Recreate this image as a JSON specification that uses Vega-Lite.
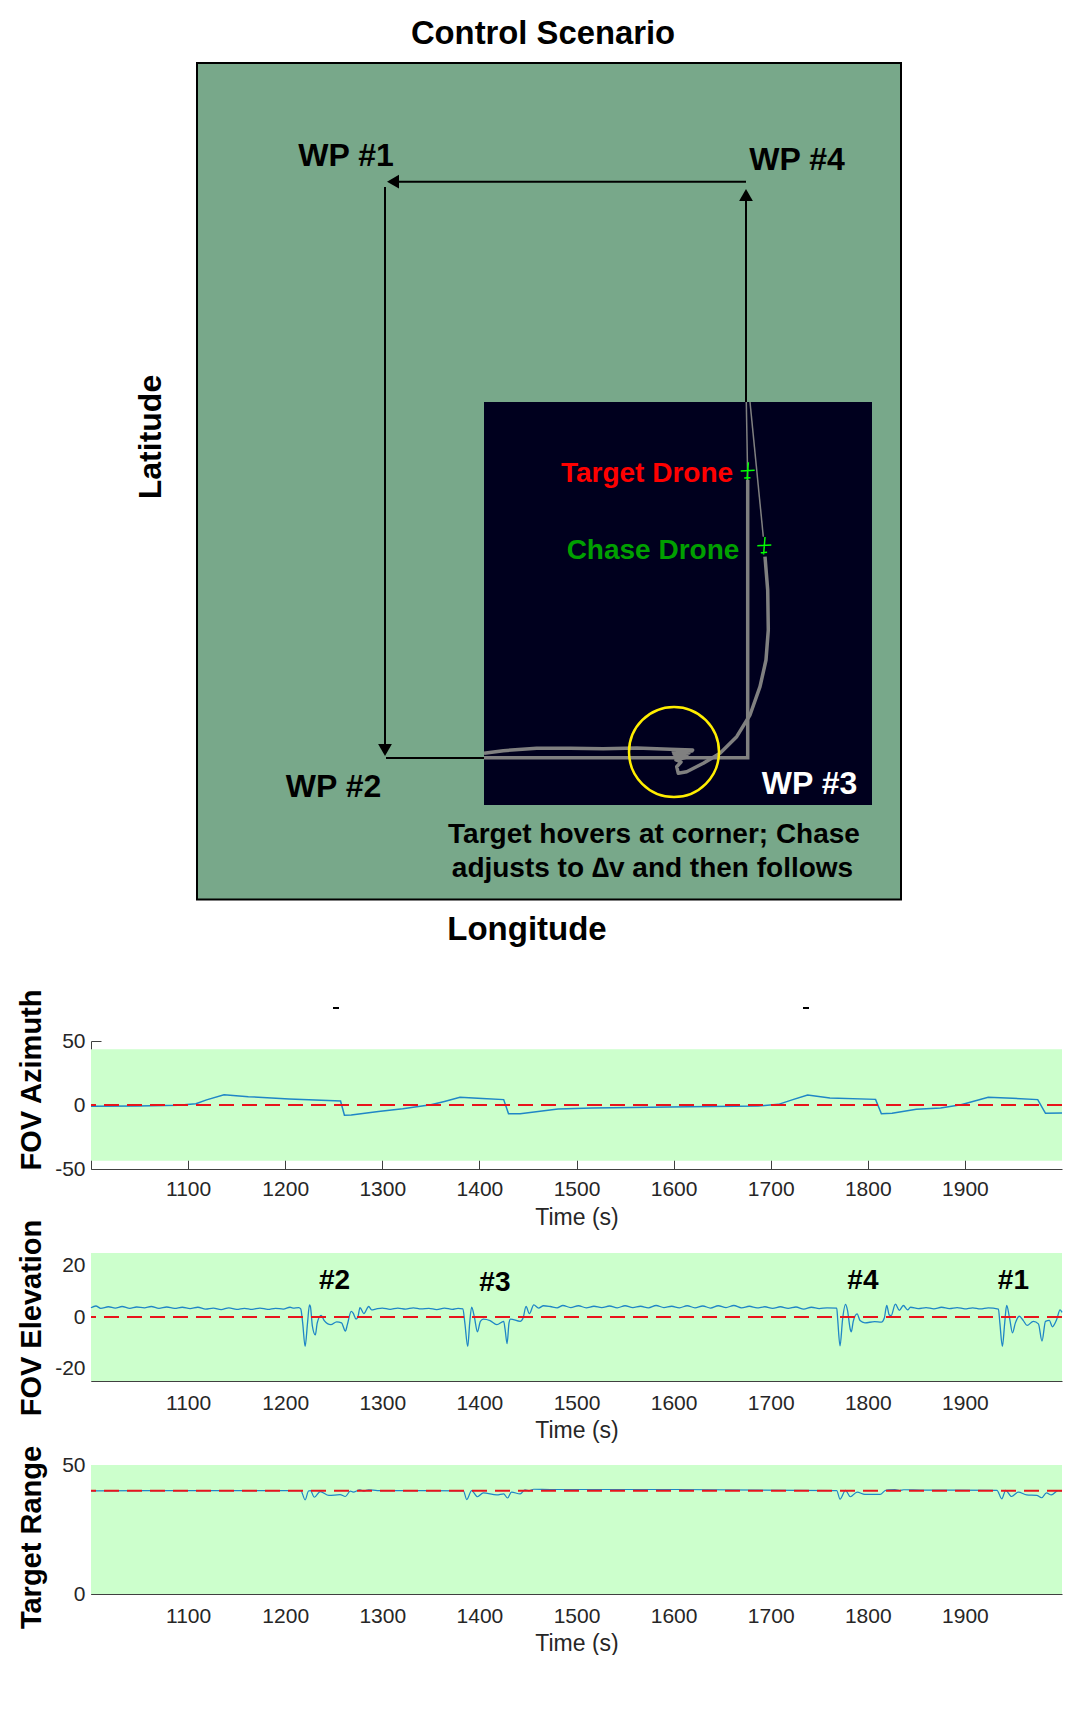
{
"$schema":"https://vega.github.io/schema/vega-lite/v6.json",
"background":"white",
"padding":{"left":16,"top":0,"right":0,"bottom":0},
"bounds":"flush",
"spacing":84,
"config":{"view":{"stroke":null},"font":"Liberation Sans",
"axisX":{"grid":false,"titleFontSize":23,"titleFontWeight":"normal","titleColor":"#262626","titleBaseline":"middle","labelFontSize":21,"labelColor":"#262626","labelFlush":false,"labelOverlap":false,"domainColor":"#404040","tickColor":"#404040"},
"axisY":{"grid":false,"titleFontSize":29,"titleFontWeight":"bold","titleColor":"#000000","titleX":-60,"titleBaseline":"middle","titleAngle":-90,"labelFontSize":21,"labelColor":"#262626","labelPadding":16,"domainColor":"#404040","tickColor":"#404040","tickSize":-10,"labelExpr":"'' + datum.value"}},
"datasets":{
"azimuth":[{"t":1000,"v":-1},{"t":1048,"v":-0.8},{"t":1090,"v":-0.2},{"t":1108,"v":1},{"t":1119,"v":4},{"t":1137,"v":8},{"t":1162,"v":6.5},{"t":1204,"v":4.7},{"t":1257,"v":3.1},{"t":1261,"v":-8},{"t":1268,"v":-7.8},{"t":1296,"v":-5},{"t":1321,"v":-3},{"t":1350,"v":0.2},{"t":1364,"v":2.8},{"t":1380,"v":6},{"t":1403,"v":5},{"t":1425,"v":4.2},{"t":1430,"v":-6.8},{"t":1442,"v":-6.8},{"t":1481,"v":-3.2},{"t":1516,"v":-2.3},{"t":1616,"v":-1.3},{"t":1687,"v":-0.8},{"t":1708,"v":0.5},{"t":1722,"v":4},{"t":1738,"v":7.8},{"t":1761,"v":5.5},{"t":1808,"v":4.4},{"t":1814,"v":-6.8},{"t":1825,"v":-6.5},{"t":1850,"v":-3.4},{"t":1875,"v":-2.3},{"t":1896,"v":0.2},{"t":1924,"v":6},{"t":1949,"v":5.2},{"t":1975,"v":4.2},{"t":1983,"v":-6.5},{"t":2000,"v":-6.3}],
"elevation":[{"t":1000,"v":3.6},{"t":1005,"v":4.3},{"t":1010,"v":3.4},{"t":1018,"v":4},{"t":1025,"v":3.5},{"t":1032,"v":4.1},{"t":1040,"v":3.4},{"t":1047,"v":3.9},{"t":1055,"v":3.6},{"t":1062,"v":4.1},{"t":1070,"v":3.4},{"t":1078,"v":3.9},{"t":1086,"v":3.4},{"t":1094,"v":3.8},{"t":1102,"v":3.3},{"t":1110,"v":3.8},{"t":1118,"v":3.1},{"t":1126,"v":3.5},{"t":1134,"v":2.9},{"t":1142,"v":3.6},{"t":1150,"v":3},{"t":1158,"v":3.4},{"t":1166,"v":3},{"t":1174,"v":3.5},{"t":1182,"v":3},{"t":1190,"v":3.4},{"t":1198,"v":3.1},{"t":1205,"v":3.8},{"t":1208,"v":3.5},{"t":1214,"v":3.7},{"t":1216,"v":3.2},{"t":1218,"v":-2.3},{"t":1220.5,"v":-11.5},{"t":1223,"v":-2.3},{"t":1225,"v":4.7},{"t":1226,"v":4},{"t":1228,"v":-3.6},{"t":1231,"v":-7},{"t":1233,"v":-2.3},{"t":1237,"v":0.6},{"t":1240,"v":-1.3},{"t":1247,"v":-3},{"t":1253,"v":-1.9},{"t":1258,"v":-2.3},{"t":1262,"v":-5.5},{"t":1264,"v":-3},{"t":1268,"v":2.2},{"t":1270,"v":1.5},{"t":1273,"v":-0.8},{"t":1275,"v":0.2},{"t":1277,"v":3.7},{"t":1281,"v":1.3},{"t":1286,"v":4.1},{"t":1289,"v":2.8},{"t":1294,"v":3.2},{"t":1300,"v":3.5},{"t":1308,"v":3},{"t":1316,"v":3.5},{"t":1324,"v":3.1},{"t":1332,"v":3.6},{"t":1340,"v":3.2},{"t":1348,"v":3.4},{"t":1356,"v":2.9},{"t":1364,"v":3.5},{"t":1372,"v":3},{"t":1378,"v":3.4},{"t":1383,"v":3.2},{"t":1385,"v":-2.3},{"t":1388,"v":-11.5},{"t":1390,"v":-2.3},{"t":1392,"v":3.8},{"t":1395,"v":-0.4},{"t":1398,"v":-5.8},{"t":1401,"v":-1.7},{"t":1404,"v":-0.8},{"t":1411,"v":-1.4},{"t":1418,"v":-3},{"t":1425,"v":-1.7},{"t":1426.5,"v":-4.9},{"t":1428.5,"v":-10.4},{"t":1430.5,"v":-2.3},{"t":1432,"v":-0.8},{"t":1442,"v":-1.7},{"t":1445,"v":-0.4},{"t":1448,"v":4.1},{"t":1451.5,"v":1.3},{"t":1456,"v":4.7},{"t":1461,"v":3.5},{"t":1466,"v":4.4},{"t":1473,"v":4.1},{"t":1480,"v":3.6},{"t":1486,"v":4.5},{"t":1494,"v":3.7},{"t":1502,"v":4.4},{"t":1510,"v":3.6},{"t":1518,"v":4.2},{"t":1526,"v":3.7},{"t":1534,"v":4.3},{"t":1542,"v":3.6},{"t":1550,"v":4.4},{"t":1558,"v":3.7},{"t":1566,"v":4.2},{"t":1574,"v":3.6},{"t":1582,"v":4.5},{"t":1590,"v":3.7},{"t":1598,"v":4.2},{"t":1606,"v":3.6},{"t":1614,"v":4.4},{"t":1622,"v":3.6},{"t":1630,"v":4.3},{"t":1638,"v":3.5},{"t":1646,"v":4.4},{"t":1654,"v":3.7},{"t":1662,"v":4.5},{"t":1670,"v":3.6},{"t":1678,"v":4.2},{"t":1686,"v":3.6},{"t":1694,"v":4},{"t":1702,"v":3.4},{"t":1710,"v":4},{"t":1718,"v":3.4},{"t":1726,"v":3.9},{"t":1734,"v":3.1},{"t":1742,"v":3.8},{"t":1750,"v":3.3},{"t":1758,"v":3.6},{"t":1768,"v":3.5},{"t":1769,"v":-1},{"t":1771.4,"v":-11.3},{"t":1774,"v":-1},{"t":1777,"v":4.9},{"t":1779,"v":2.8},{"t":1782,"v":-4.9},{"t":1783,"v":-5.8},{"t":1785,"v":-1.7},{"t":1789,"v":1.2},{"t":1792,"v":-1.4},{"t":1797,"v":-2.3},{"t":1807,"v":-1.8},{"t":1814,"v":-2},{"t":1817,"v":-0.4},{"t":1819.5,"v":4.5},{"t":1822,"v":0.9},{"t":1824,"v":0.5},{"t":1828.4,"v":5},{"t":1832.5,"v":2.6},{"t":1836.6,"v":4.5},{"t":1841,"v":2.8},{"t":1844,"v":3.8},{"t":1852,"v":3.3},{"t":1860,"v":3.7},{"t":1868,"v":3.2},{"t":1876,"v":3.8},{"t":1884,"v":3.3},{"t":1892,"v":3.7},{"t":1900,"v":3.2},{"t":1908,"v":3.6},{"t":1916,"v":3.2},{"t":1924,"v":3.6},{"t":1934.5,"v":3.1},{"t":1936,"v":-2.3},{"t":1938.6,"v":-11.5},{"t":1941,"v":-2.3},{"t":1943,"v":4.5},{"t":1946,"v":-0.4},{"t":1949,"v":-6.2},{"t":1952,"v":-2.3},{"t":1956,"v":0.3},{"t":1960,"v":-1.3},{"t":1964,"v":-3.3},{"t":1970.5,"v":-1.7},{"t":1975.7,"v":-2.7},{"t":1979.4,"v":-9.4},{"t":1983,"v":-1.7},{"t":1987,"v":-1.3},{"t":1990,"v":-3.8},{"t":1994.5,"v":-1},{"t":1998,"v":2.8},{"t":2000,"v":1.8}],
"range":[{"t":1000,"v":40},{"t":1100,"v":40.1},{"t":1216,"v":40.1},{"t":1220.5,"v":36.5},{"t":1224,"v":39.9},{"t":1226,"v":40.1},{"t":1230,"v":37.5},{"t":1236,"v":39.7},{"t":1245,"v":38.2},{"t":1256.5,"v":38.5},{"t":1262,"v":37.8},{"t":1267,"v":39.9},{"t":1270,"v":39.5},{"t":1277,"v":40.4},{"t":1281,"v":39.9},{"t":1286,"v":40.4},{"t":1295,"v":40.1},{"t":1383.5,"v":40},{"t":1387,"v":36.6},{"t":1392,"v":40.1},{"t":1398,"v":37.7},{"t":1404,"v":39.2},{"t":1418,"v":38.4},{"t":1425,"v":38.8},{"t":1429,"v":37.2},{"t":1433,"v":39.5},{"t":1442,"v":38.8},{"t":1447,"v":40.4},{"t":1451,"v":40},{"t":1456,"v":40.6},{"t":1473,"v":40.5},{"t":1600,"v":40.5},{"t":1768,"v":40.1},{"t":1771.4,"v":36.8},{"t":1777,"v":40.2},{"t":1782,"v":37.7},{"t":1789,"v":39.5},{"t":1797,"v":38.6},{"t":1812.6,"v":38.6},{"t":1818,"v":40.1},{"t":1821,"v":40.4},{"t":1828,"v":40.5},{"t":1833,"v":40.1},{"t":1837,"v":40.4},{"t":1854,"v":40.3},{"t":1933,"v":40.2},{"t":1938,"v":36.9},{"t":1942,"v":40.2},{"t":1948,"v":37.8},{"t":1955,"v":39.5},{"t":1963.6,"v":38.4},{"t":1974,"v":38.2},{"t":1979,"v":37.3},{"t":1984,"v":39.2},{"t":1989,"v":38.4},{"t":1996,"v":40.1},{"t":2000,"v":40}]
},
"vconcat":[
{"width":971,"height":957,
"encoding":{"x":{"field":"lon","type":"quantitative","axis":null,"scale":{"domain":[0,971],"nice":false,"zero":false}},"y":{"field":"lat","type":"quantitative","axis":null,"scale":{"domain":[0,957],"reverse":true,"nice":false,"zero":false}}},
"layer":[
{"data":{"values":[{"lon":106,"lon2":810,"lat":63,"lat2":899.5}]},"mark":{"type":"rect","fill":"#78A88A","stroke":"#000000","strokeWidth":2},"encoding":{"x2":{"field":"lon2"},"y2":{"field":"lat2"}}},
{"data":{"values":[{"lon":393,"lon2":781,"lat":402,"lat2":805}]},"mark":{"type":"rect","fill":"#00001E"},"encoding":{"x2":{"field":"lon2"},"y2":{"field":"lat2"}}},
{"data":{"values":[{"lon":655,"lon2":300,"lat":181.7,"lat2":181.7},{"lon":294,"lon2":294,"lat":187,"lat2":745},{"lon":295,"lon2":393,"lat":758,"lat2":758},{"lon":655,"lon2":655,"lat":402,"lat2":198},{"lon":242,"lon2":248,"lat":1008,"lat2":1008},{"lon":712,"lon2":718,"lat":1008,"lat2":1008}]},"mark":{"type":"rule","color":"#000000","strokeWidth":2},"encoding":{"x2":{"field":"lon2"},"y2":{"field":"lat2"}}},
{"data":{"values":[{"lon":302,"lat":181.7}]},"mark":{"type":"point","shape":"triangle-left","filled":true,"color":"#000000","opacity":1,"size":190}},
{"data":{"values":[{"lon":655,"lat":195}]},"mark":{"type":"point","shape":"triangle-up","filled":true,"color":"#000000","opacity":1,"size":190}},
{"data":{"values":[{"lon":294,"lat":750}]},"mark":{"type":"point","shape":"triangle-down","filled":true,"color":"#000000","opacity":1,"size":190}},
{"data":{"values":[{"i":1,"lon":655.3,"lat":402},{"i":2,"lon":656,"lat":440},{"i":3,"lon":656.7,"lat":480}]},"mark":{"type":"line","color":"#808080","strokeWidth":1.5},"encoding":{"order":{"field":"i"}}},
{"data":{"values":[{"i":1,"lon":656.7,"lat":480},{"i":2,"lon":656.7,"lat":757.7},{"i":3,"lon":393,"lat":757.7}]},"mark":{"type":"line","color":"#808080","strokeWidth":3.5},"encoding":{"order":{"field":"i"}}},
{"data":{"values":[{"i":1,"lon":659,"lat":402},{"i":2,"lon":672.3,"lat":536.7}]},"mark":{"type":"line","color":"#808080","strokeWidth":1.5},"encoding":{"order":{"field":"i"}}},
{"data":{"values":[{"i":1,"lon":674,"lat":556.7},{"i":2,"lon":676.7,"lat":590},{"i":3,"lon":677.3,"lat":630},{"i":4,"lon":675,"lat":660},{"i":5,"lon":669,"lat":686.7},{"i":6,"lon":659,"lat":715},{"i":7,"lon":645.7,"lat":736.7},{"i":8,"lon":629,"lat":753.3},{"i":9,"lon":612.3,"lat":763.3},{"i":10,"lon":595.7,"lat":771.7},{"i":11,"lon":587.3,"lat":773.3},{"i":12,"lon":585.7,"lat":766.7},{"i":13,"lon":590,"lat":762},{"i":14,"lon":585,"lat":760},{"i":15,"lon":595.7,"lat":757},{"i":16,"lon":584,"lat":756},{"i":17,"lon":596,"lat":755},{"i":18,"lon":583,"lat":754},{"i":19,"lon":598,"lat":753},{"i":20,"lon":582.3,"lat":752},{"i":21,"lon":601,"lat":751},{"i":22,"lon":582,"lat":750.7},{"i":23,"lon":601.7,"lat":750},{"i":24,"lon":579,"lat":749.3},{"i":25,"lon":545.7,"lat":748},{"i":26,"lon":512.3,"lat":748.7},{"i":27,"lon":479,"lat":748.3},{"i":28,"lon":445.7,"lat":748.3},{"i":29,"lon":412.3,"lat":750.7},{"i":30,"lon":393,"lat":753.3}]},"mark":{"type":"line","color":"#808080","strokeWidth":3.5,"strokeJoin":"round"},"encoding":{"order":{"field":"i"}}},
{"data":{"values":[{"lon":583,"lat":752}]},"mark":{"type":"point","shape":"circle","filled":false,"color":"#FFEE00","opacity":1,"strokeWidth":2.5,"size":8100}},
{"data":{"values":[{"lon":656.7,"lat":471},{"lon":673.3,"lat":545.7}]},"mark":{"type":"point","shape":"M-1,0L1,-0.1M0.1,-1.25L-0.1,1.25M-0.5,1L0.4,0.95","filled":false,"color":"#00FF00","opacity":1,"strokeWidth":1.5,"size":196}},
{"data":{"values":[{"lon":452,"lat":33.5,"label":"Control Scenario"}]},"mark":{"type":"text","font":"Liberation Sans","fontWeight":"bold","fontSize":32.8,"color":"#000000","baseline":"middle","align":"center"},"encoding":{"text":{"field":"label"}}},
{"data":{"values":[{"lon":255,"lat":156,"label":"WP #1"},{"lon":706,"lat":160,"label":"WP #4"},{"lon":242.5,"lat":787,"label":"WP #2"}]},"mark":{"type":"text","font":"Liberation Sans","fontWeight":"bold","fontSize":32,"color":"#000000","baseline":"middle","align":"center"},"encoding":{"text":{"field":"label"}}},
{"data":{"values":[{"lon":436,"lat":930,"label":"Longitude"}]},"mark":{"type":"text","font":"Liberation Sans","fontWeight":"bold","fontSize":33,"color":"#000000","baseline":"middle","align":"center"},"encoding":{"text":{"field":"label"}}},
{"data":{"values":[{"lon":718.5,"lat":784,"label":"WP #3"}]},"mark":{"type":"text","font":"Liberation Sans","fontWeight":"bold","fontSize":32,"color":"#FFFFFF","baseline":"middle","align":"center"},"encoding":{"text":{"field":"label"}}},
{"data":{"values":[{"lon":60,"lat":437,"label":"Latitude"}]},"mark":{"type":"text","font":"Liberation Sans","fontWeight":"bold","fontSize":32,"color":"#000000","baseline":"middle","align":"center","angle":270},"encoding":{"text":{"field":"label"}}},
{"data":{"values":[{"lon":563,"lat":835,"label":"Target hovers at corner; Chase"},{"lon":561.5,"lat":869,"label":"adjusts to ∆v and then follows"}]},"mark":{"type":"text","font":"Liberation Sans","fontWeight":"bold","fontSize":28,"color":"#000000","baseline":"middle","align":"center"},"encoding":{"text":{"field":"label"}}},
{"data":{"values":[{"lon":556,"lat":473.5,"label":"Target Drone"}]},"mark":{"type":"text","font":"Liberation Sans","fontWeight":"bold","fontSize":28,"color":"#FF0000","baseline":"middle","align":"center"},"encoding":{"text":{"field":"label"}}},
{"data":{"values":[{"lon":562,"lat":550.5,"label":"Chase Drone"}]},"mark":{"type":"text","font":"Liberation Sans","fontWeight":"bold","fontSize":28,"color":"#00A000","baseline":"middle","align":"center"},"encoding":{"text":{"field":"label"}}}
]},
{"width":971,"height":128,
"layer":[
{"data":{"values":[{"low":-43.5,"high":43.5}]},"mark":{"type":"rect","fill":"#CCFFCC"},"encoding":{"y":{"field":"low","type":"quantitative","scale":{"domain":[-50,50],"nice":false,"zero":false},"axis":{"values":[-50,0,50],"title":"FOV Azimuth","titleY":38.5}},"y2":{"field":"high"}}},
{"data":{"name":"azimuth"},"mark":{"type":"line","color":"#1F86C6","strokeWidth":1.5},"encoding":{"x":{"field":"t","type":"quantitative","scale":{"domain":[1000,2000],"nice":false,"zero":false},"axis":{"values":[1100,1200,1300,1400,1500,1600,1700,1800,1900],"format":"d","tickSize":-10,"labelPadding":19,"title":"Time (s)","titleY":48}},"y":{"field":"v","type":"quantitative"}}},
{"data":{"values":[{"v":0}]},"mark":{"type":"rule","color":"#E8141C","strokeWidth":2,"strokeDash":[15,8]},"encoding":{"y":{"field":"v","type":"quantitative"}}}
]},
{"width":971,"height":128,
"layer":[
{"data":{"values":[{"low":-25,"high":25}]},"mark":{"type":"rect","fill":"#CCFFCC"},"encoding":{"y":{"field":"low","type":"quantitative","scale":{"domain":[-25,25],"nice":false,"zero":false},"axis":{"values":[-20,0,20],"title":"FOV Elevation","titleY":64.5}},"y2":{"field":"high"}}},
{"data":{"name":"elevation"},"mark":{"type":"line","color":"#1F86C6","strokeWidth":1.3,"interpolate":"monotone"},"encoding":{"x":{"field":"t","type":"quantitative","scale":{"domain":[1000,2000],"nice":false,"zero":false},"axis":{"values":[1100,1200,1300,1400,1500,1600,1700,1800,1900],"format":"d","tickSize":-10,"labelPadding":21,"title":"Time (s)","titleY":49}},"y":{"field":"v","type":"quantitative"}}},
{"data":{"values":[{"v":0}]},"mark":{"type":"rule","color":"#E8141C","strokeWidth":2,"strokeDash":[15,8]},"encoding":{"y":{"field":"v","type":"quantitative"}}},
{"data":{"values":[{"t":1250.8,"v":14,"label":"#2"},{"t":1416,"v":13.2,"label":"#3"},{"t":1795,"v":14,"label":"#4"},{"t":1950,"v":14,"label":"#1"}]},"mark":{"type":"text","font":"Liberation Sans","fontWeight":"bold","fontSize":28,"color":"#000000","baseline":"middle"},"encoding":{"x":{"field":"t","type":"quantitative"},"y":{"field":"v","type":"quantitative"},"text":{"field":"label"}}}
]},
{"width":971,"height":129,
"layer":[
{"data":{"values":[{"low":0,"high":50}]},"mark":{"type":"rect","fill":"#CCFFCC"},"encoding":{"y":{"field":"low","type":"quantitative","scale":{"domain":[0,50],"nice":false,"zero":false},"axis":{"values":[0,50],"title":"Target Range","titleY":72}},"y2":{"field":"high"}}},
{"data":{"name":"range"},"mark":{"type":"line","color":"#1F86C6","strokeWidth":1.2,"interpolate":"monotone"},"encoding":{"x":{"field":"t","type":"quantitative","scale":{"domain":[1000,2000],"nice":false,"zero":false},"axis":{"values":[1100,1200,1300,1400,1500,1600,1700,1800,1900],"format":"d","tickSize":-10,"labelPadding":21,"title":"Time (s)","titleY":49}},"y":{"field":"v","type":"quantitative"}}},
{"data":{"values":[{"v":40}]},"mark":{"type":"rule","color":"#E8141C","strokeWidth":2,"strokeDash":[15,8]},"encoding":{"y":{"field":"v","type":"quantitative"}}}
]}
]}
